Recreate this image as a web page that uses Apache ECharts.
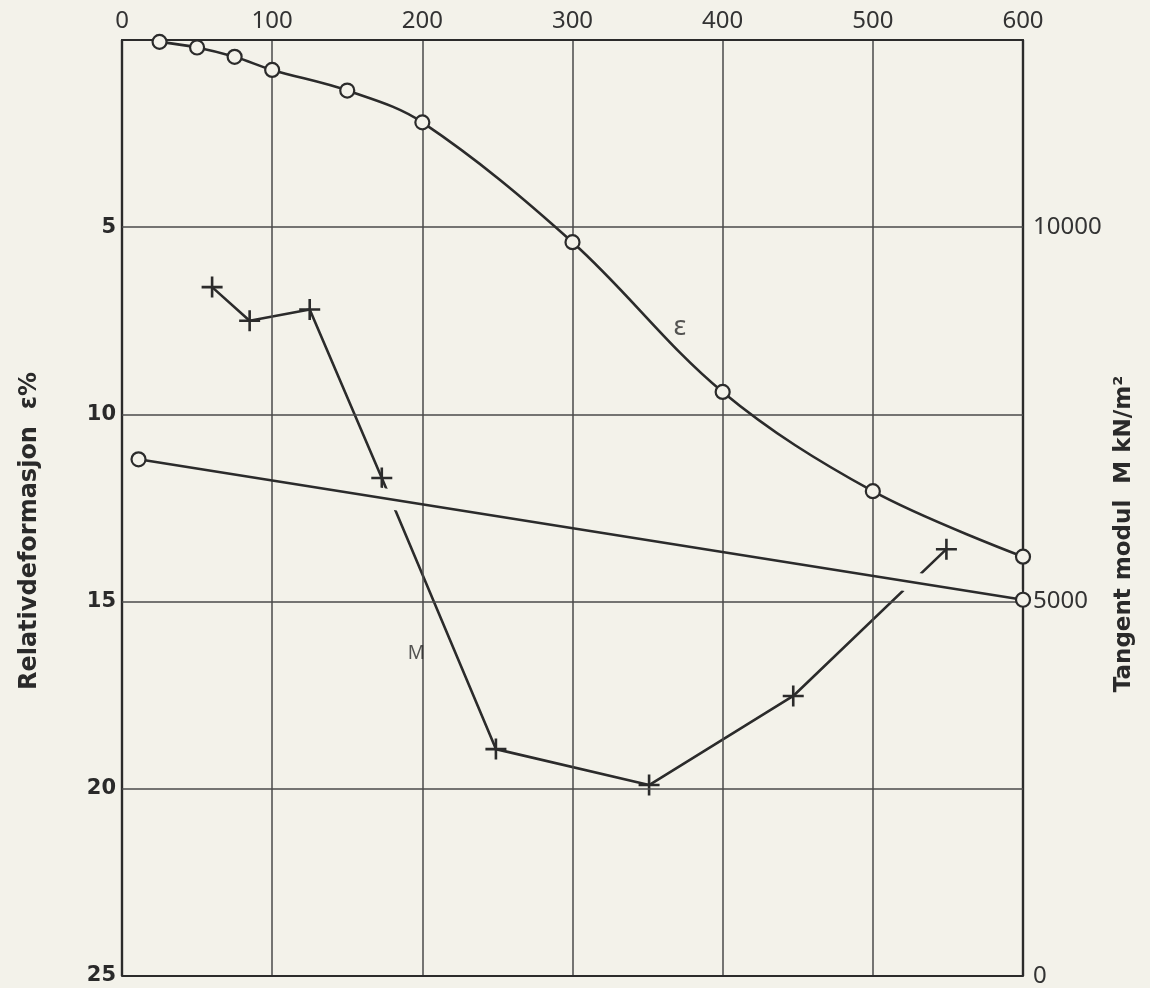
<!DOCTYPE html>
<html>
<head>
<meta charset="utf-8">
<script src="https://cdn.jsdelivr.net/npm/echarts@6/dist/echarts.min.js"></script>
<style>
  html, body { margin: 0; padding: 0; background: #f3f2ea; }
  #chart { width: 1150px; height: 988px; }
</style>
</head>
<body>
<div id="chart"></div>
<script>
// ---- data ----
// Stress axis (top) ticks
const xTicks = [0, 100, 200, 300, 400, 500, 600];
// Relativdeformasjon ε% (left axis, inverted)
const epsTicks = [0, 5, 10, 15, 20, 25];
// Tangent modul M kN/m² (right axis)
const modTicks = [0, 5000, 10000];

// ε curve (circles, smooth)
const epsX = [25, 50, 75, 100, 150, 200, 300, 400, 500, 600];
const epsY = [0.05, 0.2, 0.45, 0.8, 1.35, 2.2, 5.4, 9.4, 12.05, 13.8];

// straight line with circle ends
const lineX = [11, 600];
const lineY = [11.2, 14.95];

// M curve (crosses), values in kN/m²
const mX = [60, 85, 125, 173, 249, 351, 447, 549];
const mVal = [9200, 8750, 8900, 6650, 3030, 2550, 3740, 5700];

const BG = '#f3f2ea';
const INK = '#2b2b2b';
const GRID = '#4a4a4a';

const zip = (a, b) => a.map((v, i) => [v, b[i]]);

const gridLines = [];
xTicks.forEach(v => {
  const edge = (v === xTicks[0] || v === xTicks[xTicks.length - 1]);
  gridLines.push({ xAxis: v, lineStyle: { width: edge ? 2.2 : 1.5, color: edge ? INK : GRID } });
});
epsTicks.forEach(v => {
  const edge = (v === epsTicks[0] || v === epsTicks[epsTicks.length - 1]);
  gridLines.push({ yAxis: v, lineStyle: { width: edge ? 2.2 : 1.5, color: edge ? INK : GRID } });
});

const chart = echarts.init(document.getElementById('chart'), null, { renderer: 'canvas' });

const option = {
  backgroundColor: BG,
  animation: false,
  grid: { left: 122, right: 127, top: 40, bottom: 9, containLabel: false },
  xAxis: {
    type: 'value',
    position: 'top',
    min: 0, max: 600, interval: 100,
    axisLine: { show: true, lineStyle: { color: INK, width: 2.2 } },
    axisTick: { show: false },
    splitLine: { show: false },
    axisLabel: {
      margin: 7,
      color: '#333',
      fontFamily: 'Noto Sans',
      fontSize: 24
    }
  },
  yAxis: [
    {
      type: 'value',
      inverse: true,
      min: 0, max: 25, interval: 5,
      position: 'left',
      axisLine: { show: true, lineStyle: { color: INK, width: 2.2 } },
      axisTick: { show: false },
      splitLine: { show: false },
      axisLabel: {
        showMinLabel: false,
        margin: 6,
        color: '#2a2a2a',
        fontFamily: 'DejaVu Sans',
        fontWeight: 'bold',
        fontSize: 21
      },
      name: 'Relativdeformasjon  ε%',
      nameLocation: 'middle',
      nameRotate: 90,
      nameGap: 80,
      nameTextStyle: {
        color: '#2a2a2a',
        fontFamily: 'DejaVu Sans',
        fontWeight: 'bold',
        fontSize: 24,
        padding: [0, 46, 0, 0]
      }
    },
    {
      type: 'value',
      min: 0, max: 12500, interval: 5000,
      position: 'right',
      axisLine: { show: true, lineStyle: { color: INK, width: 2.2 } },
      axisTick: { show: false },
      splitLine: { show: false },
      axisLabel: {
        showMaxLabel: false,
        margin: 10,
        color: '#333',
        fontFamily: 'Noto Sans',
        fontSize: 24,
        formatter: v => String(v)
      },
      name: 'Tangent modul  M kN/m²',
      nameLocation: 'middle',
      nameRotate: 90,
      nameGap: 88,
      nameTextStyle: {
        color: '#2a2a2a',
        fontFamily: 'DejaVu Sans',
        fontWeight: 'bold',
        fontSize: 23,
        padding: [0, 52, 0, 0]
      }
    }
  ],
  series: [
    {
      name: 'M',
      type: 'line',
      yAxisIndex: 1,
      z: 2,
      data: zip(mX, mVal),
      symbol: 'path://M10,0 L10,20 M0,10 L20,10',
      symbolSize: 21,
      itemStyle: { color: 'rgba(0,0,0,0)', borderColor: INK, borderWidth: 2.6 },
      lineStyle: { color: INK, width: 2.6 },
      silent: true
    },
    {
      name: 'halo',
      type: 'line',
      yAxisIndex: 0,
      z: 3,
      data: zip(lineX, lineY),
      symbol: 'none',
      lineStyle: { color: BG, width: 20, cap: 'butt' },
      silent: true
    },
    {
      name: 'grid',
      type: 'line',
      yAxisIndex: 0,
      z: 4,
      data: [],
      silent: true,
      markLine: {
        silent: true,
        symbol: ['none', 'none'],
        label: { show: false },
        lineStyle: { type: 'solid', color: GRID, width: 1.5 },
        data: gridLines
      }
    },
    {
      name: 'line',
      type: 'line',
      yAxisIndex: 0,
      z: 10,
      data: zip(lineX, lineY),
      symbol: 'circle',
      symbolSize: 14,
      itemStyle: { color: BG, borderColor: INK, borderWidth: 2.2 },
      lineStyle: { color: INK, width: 2.6 },
      silent: true
    },
    {
      name: 'ε',
      type: 'line',
      yAxisIndex: 0,
      z: 10,
      data: zip(epsX, epsY),
      smooth: 0.35,
      symbol: 'circle',
      symbolSize: 14,
      itemStyle: { color: BG, borderColor: INK, borderWidth: 2.2 },
      lineStyle: { color: INK, width: 2.6 },
      silent: true
    },
    {
      name: 'labels',
      type: 'scatter',
      yAxisIndex: 0,
      z: 12,
      symbolSize: 0,
      silent: true,
      data: [
        { value: [371.5, 7.68], label: { formatter: 'ε', fontSize: 27 } },
        { value: [196, 16.4], label: { formatter: 'M', fontSize: 19 } }
      ],
      label: {
        show: true,
        position: 'inside',
        color: '#2b2b2b',
        fontFamily: 'Noto Sans'
      }
    }
  ]
};

chart.setOption(option);
</script>
</body>
</html>
